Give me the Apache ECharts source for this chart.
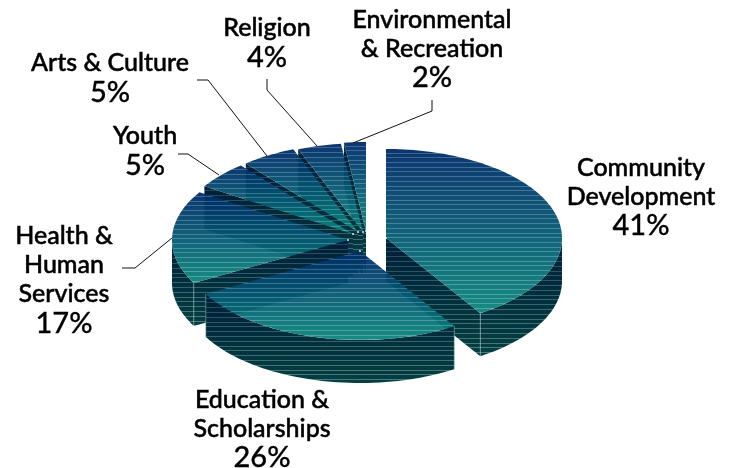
<!DOCTYPE html>
<html><head><meta charset="utf-8">
<style>html,body{margin:0;padding:0;background:#fff}#c{width:732px;height:468px}</style>
<script src="https://cdn.jsdelivr.net/npm/echarts@6/dist/echarts.min.js"></script>
</head><body><div id="c"></div>
<script>
var categories = ['Community\nDevelopment','Education &\nScholarships','Health &\nHuman\nServices','Youth','Arts & Culture','Religion','Environmental\n& Recreation'];
var shares = [41,26,17,5,5,4,2];

// Layout of the exploded pie, all in pixels
var RX=176, RY=89, DEPTH=43;
var apex=[[386,238],[360,251],[348,240],[353,234],[358,232],[363,232],[366,231]];
var drawOrder=[6,5,4,3,2,0,1];
var labelPos=[[641,197],[262,429],[64,280],[145,151],[110,78],[267,43],[432,49]];
var leaders=[null,null,
 [[122,268],[135,268],[172,238]],
 [[178,154],[188,154],[219,175]],
 [[197,80],[208,80],[267,156]],
 [[267,79],[267,90],[317,146]],
 [[432,100],[432,111],[353,143]]];

var starts=[],acc=0;
shares.forEach(function(v){starts.push(acc);acc+=v;});

function mix(a,b,t){return a.map(function(x,i){return x+(b[i]-x)*t;});}
function css(c){return 'rgb('+c.map(Math.round).join(',')+')';}
function stripes(y0,y1,c0,c1,line0,line1,step){
  var h=Math.max(1,y1-y0),stops=[],s=step/h,w=1/h;
  for(var p=0;p<1;p+=s){
    var a=css(mix(c0,c1,p)),e=Math.min(1,p+s-w),l=css(mix(line0,line1,e));
    stops.push({offset:p,color:a},{offset:e,color:css(mix(c0,c1,e))},{offset:e,color:l},{offset:Math.min(1,p+s),color:l});
  }
  return {type:'linear',x:0,y:y0,x2:0,y2:y1,global:true,colorStops:stops};
}
function pt(c,deg,dz){var r=deg*Math.PI/180;return [c[0]+RX*Math.sin(r),c[1]-RY*Math.cos(r)+(dz||0)];}
function bounds(pts){var a=pts.map(function(p){return p[1];});return [Math.min.apply(null,a),Math.max.apply(null,a)];}

var TOP=[[0,42,104],[10,134,124],[48,92,138],[70,165,158]];
var WALL=[[0,30,56],[3,64,66],[30,70,90],[80,125,125]];

function renderSlice(params,api){
  var i=api.value(2),a=api.value(1)*3.6,b=(api.value(1)+api.value(0))*3.6,c=apex[i],kids=[];
  function wallFill(pts){var r=bounds(pts);return stripes(r[0],r[1],WALL[0],WALL[1],WALL[2],WALL[3],4.8);}
  function add(pts,fill,op){kids.push({type:'polygon',shape:{points:pts},style:{fill:fill,opacity:op||1}});}
  function face(deg){var p=pt(c,deg),q=[c,p,[p[0],p[1]+DEPTH],[c[0],c[1]+DEPTH]];add(q,wallFill(q));}
  if(Math.sin(a*Math.PI/180)<0)face(a);
  if(Math.sin(b*Math.PI/180)>0)face(b);
  var w0=Math.max(a,90),w1=Math.min(b,270);
  if(w1>w0){
    var up=[],dn=[];
    for(var t=w0;t<w1;t+=2){up.push(pt(c,t));dn.unshift(pt(c,t,DEPTH));}
    up.push(pt(c,w1));dn.unshift(pt(c,w1,DEPTH));
    var q=up.concat(dn);add(q,wallFill(q));
  }
  [a,b].forEach(function(d){
    if(d>90&&d<270){var p=pt(c,d);
      kids.push({type:'line',shape:{x1:p[0],y1:p[1],x2:p[0],y2:p[1]+DEPTH},style:{stroke:'rgba(170,200,200,.5)',lineWidth:1}});}
  });
  var topPts=[c];
  for(var t2=a;t2<b;t2+=1.5)topPts.push(pt(c,t2));
  topPts.push(pt(c,b));
  var r=bounds(topPts);
  add(topPts,stripes(r[0],r[1],TOP[0],TOP[1],TOP[2],TOP[3],4.7),0.95);
  kids.push({type:'circle',shape:{cx:c[0],cy:c[1],r:1},style:{fill:'#dfeeee'}});
  return {type:'group',children:kids};
}
function renderLabel(params,api){
  var i=api.value(0),kids=[],p=labelPos[i];
  if(leaders[i])kids.push({type:'polyline',shape:{points:leaders[i]},style:{fill:null,stroke:'#111',lineWidth:1}});
  kids.push({type:'text',style:{x:p[0],y:p[1],text:categories[i].split('\n').map(function(s){return '{n|'+s+'}';}).join('\n')+'\n{p|'+shares[i]+'%}',align:'center',verticalAlign:'middle',
    rich:{n:{font:'500 25px Lato',lineHeight:29,fill:'#000',stroke:'#000',lineWidth:0.5},
          p:{font:'500 29px Lato',lineHeight:30,fill:'#000',stroke:'#000',lineWidth:0.3}}}});
  return {type:'group',children:kids};
}
var chart=echarts.init(document.getElementById('c'),null,{renderer:'canvas'});
chart.setOption({animation:false,
 series:[
  {type:'custom',coordinateSystem:'none',silent:true,renderItem:renderSlice,
   data:drawOrder.map(function(i){return [shares[i],starts[i],i];})},
  {type:'custom',coordinateSystem:'none',silent:true,renderItem:renderLabel,
   data:categories.map(function(n,i){return [i];})}
 ]});
</script></body></html>
